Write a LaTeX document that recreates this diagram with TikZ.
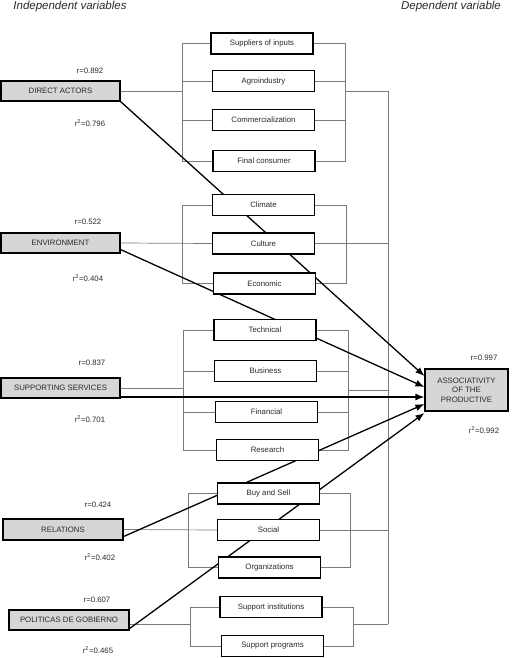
\documentclass[tikz,border=0pt]{standalone}
\usepackage{fontspec}
\setmainfont{Liberation Sans}
\usetikzlibrary{arrows.meta}
\definecolor{txt}{HTML}{2A2A2A}
\definecolor{boxgray}{HTML}{D6D6D6}
\definecolor{linegray}{HTML}{7A7A7A}
\tikzset{
  lbox/.style={draw=black, line width=1.1pt, fill=boxgray, text=txt, font=\fontsize{7.8}{9}\selectfont, minimum height=20pt, inner sep=0pt},
  mbox/.style={draw=black, line width=1.1pt, fill=white, text=txt, font=\fontsize{7.8}{9}\selectfont, minimum width=102pt, minimum height=21pt, inner sep=0pt},
  lab/.style={text=txt, font=\fontsize{7.8}{9}\selectfont, inner sep=0pt},
  hdr/.style={text=txt, font=\fontsize{11.5}{13}\selectfont\itshape, inner sep=0pt},
  bline/.style={draw=linegray, line width=0.7pt},
  arr/.style={draw=black, line width=1.3pt, -{Latex[length=9pt,width=7pt]}},
}
\begin{document}
\begin{tikzpicture}[x=1pt,y=-1pt]
\useasboundingbox (0,0) rectangle (512,658);
% headers
\node[hdr] (h1) at (70,7) {Independent variables};
\node[hdr] (h2) at (451,7) {Dependent variable};
% coordinates for bracket lines
\coordinate (L1) at (182,0); \coordinate (R1) at (345,0);
\coordinate (L2) at (182,0); \coordinate (R2) at (346,0);
\coordinate (L3) at (183,0); \coordinate (R3) at (348,0);
\coordinate (L4) at (188,0); \coordinate (R4) at (350,0);
\coordinate (L5) at (190,0); \coordinate (R5) at (353,0);
\coordinate (C) at (388,0);
\coordinate (Cb) at (388,624);
% left boxes (positions)
\path (60.5,91) coordinate (pda) (60.5,243) coordinate (penv) (60.5,388) coordinate (pss)
      (63,529.5) coordinate (prel) (69,620) coordinate (ppol);
% middle boxes coordinates
\path (262,43.5) coordinate (ps1) (263.5,81) coordinate (ps2) (263.5,120) coordinate (ps3) (264,161) coordinate (ps4)
      (263.5,205) coordinate (pe1) (263.5,243.5) coordinate (pe2) (264.5,283.5) coordinate (pe3)
      (265,330) coordinate (pt1) (265.5,371) coordinate (pt2) (266.5,412) coordinate (pt3) (267.5,450) coordinate (pt4)
      (268.5,493.5) coordinate (pr1) (268.5,530) coordinate (pr2) (269.5,567.5) coordinate (pr3)
      (271,607) coordinate (pp1) (272.5,646) coordinate (pp2);
% invisible node copies for anchors (drawn later on top)
\begin{scope}[every node/.append style={draw=none, fill=none, text opacity=0}]
\node[lbox, minimum width=119pt] (da) at (pda) {DIRECT ACTORS};
\node[lbox, minimum width=119pt] (env) at (penv) {ENVIRONMENT};
\node[lbox, minimum width=119pt] (ss) at (pss) {SUPPORTING SERVICES};
\node[lbox, minimum width=120pt, minimum height=21pt] (rel) at (prel) {RELATIONS};
\node[lbox, minimum width=120pt] (pol) at (ppol) {POLITICAS DE GOBIERNO};
\node[mbox] (s1) at (ps1) {}; \node[mbox] (s2) at (ps2) {}; \node[mbox] (s3) at (ps3) {}; \node[mbox] (s4) at (ps4) {};
\node[mbox] (e1) at (pe1) {}; \node[mbox] (e2) at (pe2) {}; \node[mbox] (e3) at (pe3) {};
\node[mbox] (t1) at (pt1) {}; \node[mbox] (t2) at (pt2) {}; \node[mbox] (t3) at (pt3) {}; \node[mbox] (t4) at (pt4) {};
\node[mbox] (r1) at (pr1) {}; \node[mbox] (r2) at (pr2) {}; \node[mbox] (r3) at (pr3) {};
\node[mbox] (p1) at (pp1) {}; \node[mbox] (p2) at (pp2) {};
\node[lbox, minimum width=83pt, minimum height=42pt] (ap) at (466.5,390) {};
\end{scope}
% ---- gray bracket lines ----
% group 1
\draw[bline] (s1.west) -- (s1.west -| L1) -- (s4.west -| L1) -- (s4.west);
\draw[bline] (s2.west) -- (s2.west -| L1);
\draw[bline] (s3.west) -- (s3.west -| L1);
\draw[bline] (s1.east) -- (s1.east -| R1) -- (s4.east -| R1) -- (s4.east);
\draw[bline] (s2.east) -- (s2.east -| R1);
\draw[bline] (s3.east) -- (s3.east -| R1);
\draw[bline] (da.east) -- (da.east -| L1);
\draw[bline] (da.east -| R1) -- (da.east -| C) -- (Cb);
% group 2
\draw[bline] (e1.west) -- (e1.west -| L2) -- (e3.west -| L2) -- (e3.west);
\draw[bline] (e1.east) -- (e1.east -| R2) -- (e3.east -| R2) -- (e3.east);
\draw[bline] (env.east) -- (e2.west);
\draw[bline] (e2.east) -- (e2.east -| C);
% group 3
\draw[bline] (t1.west) -- (t1.west -| L3) -- (t4.west -| L3) -- (t4.west);
\draw[bline] (t2.west) -- (t2.west -| L3);
\draw[bline] (t3.west) -- (t3.west -| L3);
\draw[bline] (t1.east) -- (t1.east -| R3) -- (t4.east -| R3) -- (t4.east);
\draw[bline] (t2.east) -- (t2.east -| R3);
\draw[bline] (t3.east) -- (t3.east -| R3);
\draw[bline] (ss.east) -- (ss.east -| L3);
\coordinate (sx) at ([yshift=-2pt]ss.east);
\draw[bline] (sx -| R3) -- (sx -| C);
% group 4
\draw[bline] (r1.west) -- (r1.west -| L4) -- (r3.west -| L4) -- (r3.west);
\draw[bline] (r1.east) -- (r1.east -| R4) -- (r3.east -| R4) -- (r3.east);
\draw[bline] (rel.east) -- (r2.west);
\draw[bline] (r2.east) -- (r2.east -| C);
% group 5
\coordinate (pe) at ([yshift=-4pt]pol.east);
\draw[bline] (p1.west) -- (p1.west -| L5) -- (p2.west -| L5) -- (p2.west);
\draw[bline] (p1.east) -- (p1.east -| R5) -- (p2.east -| R5) -- (p2.east);
\draw[bline] (pe) -- (pe -| L5);
\draw[bline] (pe -| R5) -- (pe -| C);
% ---- thick arrows ----
\draw[arr] (da.south east) -- ([yshift=14pt]ap.west);
\draw[arr] ([yshift=4pt]env.south east) -- ([yshift=3pt]ap.west);
\coordinate (sa) at ([yshift=-9pt]ss.east);
\draw[arr] (sa) -- (sa -| ap.west);
\draw[arr] ([yshift=4pt]rel.south east) -- ([yshift=-14pt]ap.west);
\draw[arr] ([yshift=2pt]pol.south east) -- ([yshift=-23pt]ap.west);
% ---- boxes on top ----
\node[lbox, minimum width=119pt] at (pda) {DIRECT ACTORS};
\node[lbox, minimum width=119pt] at (penv) {ENVIRONMENT};
\node[lbox, minimum width=119pt] at (pss) {SUPPORTING SERVICES};
\node[lbox, minimum width=120pt, minimum height=21pt] at (prel) {RELATIONS};
\node[lbox, minimum width=120pt] at (ppol) {POLITICAS DE GOBIERNO};
\node[mbox] at (ps1) {Suppliers of inputs};
\node[mbox] at (ps2) {Agroindustry};
\node[mbox] at (ps3) {Commercialization};
\node[mbox] at (ps4) {Final consumer};
\node[mbox] at (pe1) {Climate};
\node[mbox] at (pe2) {Culture};
\node[mbox] at (pe3) {Economic};
\node[mbox] at (pt1) {Technical};
\node[mbox] at (pt2) {Business};
\node[mbox] at (pt3) {Financial};
\node[mbox] at (pt4) {Research};
\node[mbox] at (pr1) {Buy and Sell};
\node[mbox] at (pr2) {Social};
\node[mbox] at (pr3) {Organizations};
\node[mbox] at (pp1) {Support institutions};
\node[mbox] at (pp2) {Support programs};
\node[lbox, minimum width=83pt, minimum height=42pt, align=center, font=\fontsize{7.8}{9.5}\selectfont] at (466.5,390) {ASSOCIATIVITY\\OF THE\\PRODUCTIVE};
% ---- r labels ----
\node[lab] (l1a) at (90,71) {r=0.892};
\node[lab] (l1b) at (90,123) {r\textsuperscript{2}=0.796};
\node[lab] (l2a) at (88,222) {r=0.522};
\node[lab] (l2b) at (88,278) {r\textsuperscript{2}=0.404};
\node[lab] (l3a) at (92,363) {r=0.837};
\node[lab] (l3b) at (90,419) {r\textsuperscript{2}=0.701};
\node[lab] (l4a) at (98,505) {r=0.424};
\node[lab] (l4b) at (100,557) {r\textsuperscript{2}=0.402};
\node[lab] (l5a) at (97,600) {r=0.607};
\node[lab] (l5b) at (98,650) {r\textsuperscript{2}=0.465};
\node[lab] (l6a) at (484,358) {r=0.997};
\node[lab] (l6b) at (484,430) {r\textsuperscript{2}=0.992};
\end{tikzpicture}
\end{document}
